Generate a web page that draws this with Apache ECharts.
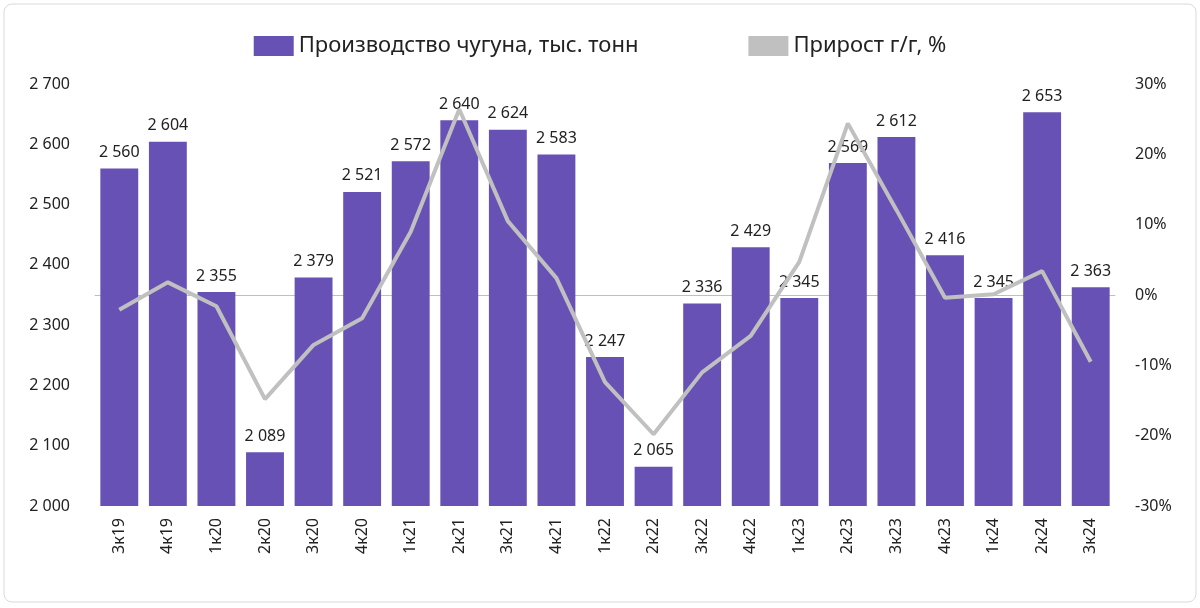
<!DOCTYPE html><html><head><meta charset="utf-8">
<script src="https://cdn.jsdelivr.net/npm/echarts@6/dist/echarts.min.js"></script>
<style>html,body{margin:0;background:#fff}#c{width:1200px;height:608px}</style></head><body>
<div id="c"></div>
<script>
const categories=['3к19','4к19','1к20','2к20','3к20','4к20','1к21','2к21','3к21','4к21','1к22','2к22','3к22','4к22','1к23','2к23','3к23','4к23','1к24','2к24','3к24'];
const production=[2560,2604,2355,2089,2379,2521,2572,2640,2624,2583,2247,2065,2336,2429,2345,2569,2612,2416,2345,2653,2363];
const growth=[-2.1,1.8,-1.6,-14.8,-7.1,-3.3,9.0,26.4,10.5,2.4,-12.4,-19.8,-11.0,-5.8,4.7,24.4,12.1,-0.4,0.1,3.4,-9.5];
const fmt=v=>String(v).replace(/\B(?=(\d{3})+(?!\d))/g,' ');
const chart=echarts.init(document.getElementById('c'));
const font='"Noto Sans", "DejaVu Sans", sans-serif';
chart.setOption({
 textStyle:{fontFamily:font},
 graphic:[{type:'rect',shape:{x:4,y:4,width:1192,height:598,r:8},style:{fill:'none',stroke:'#d9d9d9',lineWidth:1}}],
 legend:{top:30,left:'center',itemGap:110,textStyle:{fontSize:22,color:'#222',fontFamily:font},
  data:[{name:'Производство чугуна, тыс. тонн',icon:'rect',itemStyle:{color:'#6751b5'}},{name:'Прирост г/г, %',icon:'rect'}],itemWidth:40,itemHeight:20},
 grid:{left:95,right:85,top:84,bottom:102},
 xAxis:{type:'category',data:categories,axisTick:{show:false},axisLine:{lineStyle:{color:'#bfbfbf'}},
  axisLabel:{rotate:90,fontSize:16,color:'#222',margin:12}},
 yAxis:[{type:'value',min:2000,max:2700,interval:100,splitLine:{show:false},axisLabel:{fontSize:16,color:'#222',formatter:fmt,margin:25}},
  {type:'value',min:-30,max:30,interval:10,splitLine:{show:false},axisLabel:{fontSize:16,color:'#222',formatter:v=>v+'%',margin:20}}],
 series:[{name:'Производство чугуна, тыс. тонн',type:'bar',data:production,barWidth:'78%',itemStyle:{color:'#6751b5'},
   label:{show:true,position:'top',fontSize:16,color:'#222',formatter:p=>fmt(p.value),distance:8}},
  {name:'Прирост г/г, %',type:'line',yAxisIndex:1,data:growth,symbol:'none',lineStyle:{color:'#c0c0c0',width:4},itemStyle:{color:'#c0c0c0'}}]
});
</script></body></html>
